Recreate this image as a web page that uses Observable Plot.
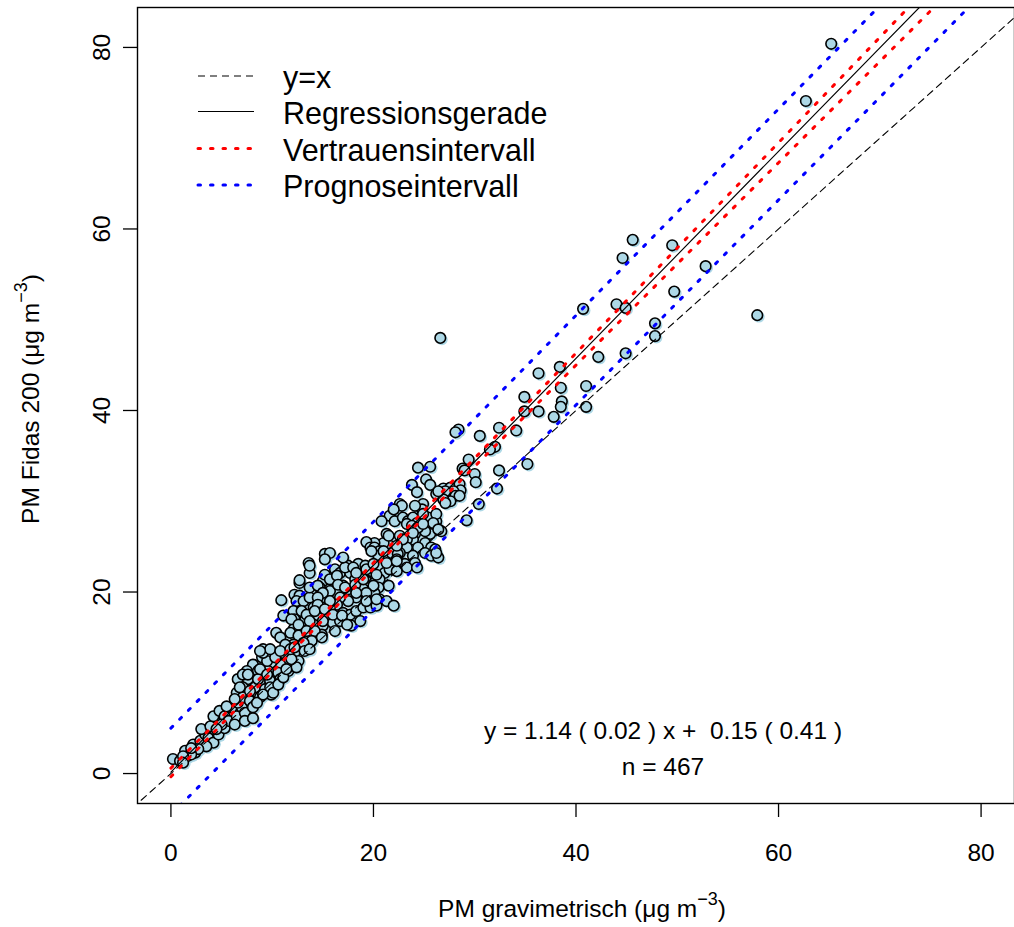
<!DOCTYPE html>
<html><head><meta charset="utf-8">
<script src="https://cdn.jsdelivr.net/npm/d3@7"></script>
<script src="https://cdn.jsdelivr.net/npm/@observablehq/plot@0.6"></script>
<style>
html,body{margin:0;padding:0;background:#fff;overflow:hidden}
svg text{white-space:pre}
</style></head><body><div id="chart"></div>
<script>
// ---- data ----
const pmGrav = [65.2,62.7,45.6,44.6,49.5,52.8,49.7,57.9,40.7,44.0,
44.9,47.8,47.8,44.9,42.2,26.6,38.4,36.3,41.0,41.0,
38.5,34.9,38.6,38.5,37.8,36.3,34.9,34.1,32.4,30.5,
28.4,28.1,32.0,31.5,29.4,35.2,32.4,25.6,28.8,32.2,
24.4,23.8,24.3,25.2,25.6,26.9,26.2,27.6,28.5,28.6,
27.6,29.0,30.0,30.1,30.4,29.2,27.9,27.1,28.1,27.6,
26.9,26.4,24.9,24.8,22.6,21.6,20.8,22.1,22.9,23.4,
23.9,24.3,25.4,26.2,26.1,26.7,25.6,25.1,24.1,23.9,
25.1,24.4,23.3,23.3,25.7,26.1,25.1,22.6,21.6,21.0,
20.1,20.3,21.3,22.3,23.9,25.7,26.4,22.8,22.0,24.1,
26.2,27.1,23.3,23.8,25.9,24.4,26.4,26.2,21.3,19.3,
19.7,20.1,20.6,22.6,21.8,22.4,20.5,22.3,23.1,24.1,
15.2,15.7,15.2,13.6,13.7,16.2,16.7,17.5,17.7,18.5,
19.2,19.8,20.6,21.1,21.6,22.3,18.8,18.2,19.3,20.1,
20.6,21.5,20.5,20.1,20.6,21.3,22.0,16.0,15.0,14.7,
15.7,17.0,17.5,18.3,19.0,19.2,18.3,17.5,16.7,16.4,
15.7,14.9,14.1,13.9,14.5,15.4,17.0,17.7,18.3,19.0,
19.7,20.3,12.2,12.7,12.4,13.1,13.7,12.1,12.9,12.2,
13.2,14.1,15.0,16.0,16.7,17.8,18.7,12.1,13.1,14.9,
16.2,13.7,15.2,15.7,16.4,17.2,18.0,19.3,20.3,12.7,
13.7,14.5,15.0,16.5,17.2,18.2,19.0,20.0,19.3,18.3,
10.9,14.5,14.5,15.7,19.3,20.3,11.1,11.9,13.4,14.2,
15.2,16.0,16.9,17.4,15.0,13.7,12.6,10.4,10.8,11.8,
12.6,13.4,14.2,14.9,13.9,13.1,12.1,11.3,9.1,9.8,
9.0,10.4,11.3,12.2,13.2,13.7,12.6,11.6,10.8,9.9,
8.1,7.5,8.6,9.6,10.6,11.6,12.4,6.6,7.6,8.8,
9.8,10.8,7.1,8.3,9.3,10.1,6.5,7.6,8.8,9.9,
0.2,1.4,2.2,1.6,0.9,2.4,2.9,3.4,3.0,3.9,
3.7,4.2,4.7,5.3,4.2,4.8,5.3,5.7,6.5,6.0,
7.0,6.6,7.1,7.8,7.3,8.1,8.5,7.8,7.1,7.6,
8.6,8.8,9.5,9.8,9.1,10.1,10.6,11.1,9.5,10.3,
11.4,11.9,9.1,9.8,10.8,11.8,12.2,8.8,6.8,6.3,
5.5,5.0,4.5,3.5,2.7,2.0,1.2,6.3,7.3,8.1,
1.2,2.0,28.5,24.9,24.9,23.9,22.9,21.5,19.8,21.0,
22.3,17.0,18.3,20.0,21.3,22.3,23.3,24.3,12.7];

const pmFidas = [80.4,74.1,58.8,56.8,58.2,55.9,53.1,50.5,51.2,51.7,
51.3,49.6,48.2,46.3,45.9,48.0,44.8,44.1,42.7,40.4,
42.5,41.5,41.0,40.4,39.3,39.9,39.9,37.8,38.1,37.2,
37.9,37.6,36.0,35.7,34.6,34.1,33.4,33.8,33.6,31.4,
33.7,31.8,31.0,32.4,31.8,31.4,30.8,31.5,31.9,31.2,
30.5,33.4,33.0,32.1,29.7,27.9,31.1,31.1,30.6,30.0,
30.2,31.1,29.7,29.1,29.7,28.4,27.8,27.8,28.2,27.8,
28.2,27.6,28.2,27.8,27.1,26.7,26.4,26.7,26.4,25.8,
25.4,24.9,25.8,24.9,24.9,24.7,24.3,24.3,25.1,25.4,
25.4,24.3,24.2,24.0,24.0,24.0,23.8,29.5,29.1,29.5,
28.6,29.8,27.5,27.3,27.6,27.1,26.9,24.3,26.4,25.5,
24.9,24.9,24.5,26.2,24.3,24.2,24.0,23.6,23.1,23.2,
24.2,24.3,23.6,23.2,22.1,22.5,22.1,22.9,22.1,23.1,
22.9,22.3,22.7,22.1,22.5,22.3,21.9,21.4,21.2,21.0,
21.4,20.7,20.5,19.9,19.2,19.0,18.5,21.2,21.2,20.5,
20.1,20.7,20.3,20.1,20.3,19.6,19.4,19.0,19.4,18.6,
18.3,18.3,18.3,17.5,17.2,17.4,17.7,17.5,17.9,18.3,
18.3,18.5,19.7,19.6,19.0,19.0,19.4,17.9,17.9,17.0,
16.8,16.4,16.3,16.6,16.8,16.3,16.8,15.9,15.7,15.3,
15.7,22.9,21.9,21.4,21.8,22.7,22.7,22.5,21.9,21.0,
20.5,20.7,19.9,20.8,20.5,20.8,21.4,20.7,19.9,19.9,
19.1,19.4,18.6,19.0,19.0,19.2,17.4,17.0,17.5,17.9,
18.1,17.5,17.4,16.4,16.8,16.8,16.4,15.5,15.0,15.5,
15.2,15.7,15.7,15.0,14.6,14.4,14.2,14.2,13.7,13.3,
12.8,12.8,13.1,13.3,13.5,13.7,12.4,12.2,12.0,12.2,
12.0,11.3,11.3,11.3,11.1,11.3,11.7,10.4,10.4,10.2,
10.2,10.4,9.5,9.5,9.3,9.3,8.9,8.5,8.4,8.7,
1.6,2.5,3.2,1.9,1.4,2.3,3.6,4.3,4.9,5.2,
3.9,3.4,4.3,5.0,6.3,6.9,6.3,5.8,6.3,7.3,
7.3,7.8,8.4,8.0,6.7,7.3,7.8,9.1,10.9,10.9,
10.4,11.5,10.9,9.5,8.7,8.9,9.8,10.6,12.4,12.8,
11.5,12.6,13.3,13.7,13.5,13.7,13.9,13.5,9.5,8.2,
7.4,5.4,4.9,3.0,2.7,2.1,1.9,5.4,5.8,6.1,
1.2,2.8,30.6,28.6,27.5,26.5,25.8,26.2,24.5,24.5,
25.1,23.8,22.1,23.1,23.2,23.4,22.7,22.7,21.3];

// fitted line and interval bands, read at these x positions
const bandX   = [0, 10, 20, 30, 40, 50, 60, 70, 80];
const regY    = [0.15, 11.55, 22.95, 34.35, 45.75, 57.15, 68.55, 79.95, 91.35];
const ciUpper = [0.6, 11.83, 23.22, 34.75, 46.32, 57.91, 69.51, 81.11, 92.72];
const ciLower = [-0.35, 11.2, 22.6, 33.85, 45.0, 56.15, 67.3, 78.45, 89.6];
const piUpper = [5.0, 16.37, 27.74, 39.11, 50.48, 61.85, 73.22, 84.59, 95.96];
const piLower = [-4.55, 6.75, 18.05, 29.3, 40.6, 51.9, 63.2, 74.5, 85.8];
const identityX = [-10, 90];

const xTicks = [0, 20, 40, 60, 80];
const yTicks = [0, 20, 40, 60, 80];
const legendLabels = ["y=x", "Regressionsgerade", "Vertrauensintervall", "Prognoseintervall"];
const equationText = "y = 1.14 ( 0.02 ) x +  0.15 ( 0.41 )";
const nText = "n = 467";

// ---- drawing ----
const FONT = '"Liberation Sans", Arial, Helvetica, sans-serif';
const FS = 24.5;
const points = pmGrav.map((x, i) => ({x, y: pmFidas[i]}));
const band = ys => bandX.map((x, i) => ({x, y: ys[i]}));
const identity = identityX.map(v => ({x: v, y: v}));
const dotted = {strokeWidth: 3, strokeDasharray: "2.5,10", strokeLinecap: "round", clip: true};

const chart = Plot.plot({
  width: 1014, height: 927,
  marginLeft: 137, marginRight: 0, marginTop: 7, marginBottom: 124,
  style: {fontFamily: FONT, fontSize: FS + "px", background: "#fff", color: "#000", overflow: "visible"},
  x: {domain: [-3.3, 83.3]},
  y: {domain: [-3.3, 84.4]},
  marks: [
    Plot.axisX({ticks: xTicks, tickSize: 14, tickPadding: 26, label: null, tickFormat: d => String(d), fontSize: FS, strokeWidth: 1.3}),
    Plot.axisY({ticks: yTicks, tickSize: 14, tickPadding: 14, tickRotate: -90, label: null, tickFormat: d => String(d), fontSize: FS, strokeWidth: 1.3}),
    Plot.dot(points, {x: "x", y: "y", r: 5.8, fill: "#ADD8E6", dx: 1.6, dy: 1.6}),
    Plot.dot(points, {x: "x", y: "y", r: 5.3, fill: "#ADD8E6", stroke: "black", strokeWidth: 1.6}),
    Plot.line(identity, {x: "x", y: "y", stroke: "black", strokeWidth: 1.1, strokeDasharray: "7,5", clip: true}),
    Plot.line(band(regY), {x: "x", y: "y", stroke: "black", strokeWidth: 1.2, clip: true}),
    Plot.line(band(ciUpper), {x: "x", y: "y", stroke: "red", ...dotted}),
    Plot.line(band(ciLower), {x: "x", y: "y", stroke: "red", ...dotted}),
    Plot.line(band(piUpper), {x: "x", y: "y", stroke: "blue", ...dotted}),
    Plot.line(band(piLower), {x: "x", y: "y", stroke: "blue", ...dotted}),
    Plot.text([equationText], {text: d => d, frameAnchor: "bottom", dx: 87, dy: -65, fontSize: FS}),
    Plot.text([nText], {text: d => d, frameAnchor: "bottom", dx: 87, dy: -29, fontSize: FS}),
    Plot.frame({stroke: "black", strokeWidth: 1.4})
  ]
});
document.getElementById("chart").appendChild(chart);

// legend and axis titles (text with superscripts)
const svg = d3.select(chart);
const legStroke = ["black", "black", "red", "blue"];
const legDash = ["7,5", null, "2.5,10", "2.5,10"];
const legWidth = [1.1, 1.2, 3, 3];
const legCap = ["butt", "butt", "round", "round"];
const legLineY = [76, 111.5, 148.5, 185];
const leg = svg.append("g").attr("font-family", FONT).attr("font-size", 30.5);
legendLabels.forEach((lab, i) => {
  leg.append("line").attr("x1", 198).attr("x2", 254).attr("y1", legLineY[i]).attr("y2", legLineY[i])
    .attr("stroke", legStroke[i]).attr("stroke-width", legWidth[i])
    .attr("stroke-dasharray", legDash[i]).attr("stroke-linecap", legCap[i]);
  leg.append("text").attr("x", 283).attr("y", legLineY[i] + 12).attr("text-anchor", "start")
    .attr("fill", "black").text(lab);
});

function unitTitle(g, main) {
  const t = g.append("text").attr("text-anchor", "middle").attr("fill", "black")
    .attr("font-family", FONT).attr("font-size", FS);
  t.append("tspan").text(main + " (\u03bcg m");
  t.append("tspan").attr("font-size", 18).attr("dy", -12).text("\u22123");
  t.append("tspan").attr("dy", 12).text(")");
  return t;
}
unitTitle(svg.append("g").attr("transform", "translate(582,917)"), "PM gravimetrisch");
unitTitle(svg.append("g").attr("transform", "translate(39,399) rotate(-90)"), "PM Fidas 200");
</script></body></html>
